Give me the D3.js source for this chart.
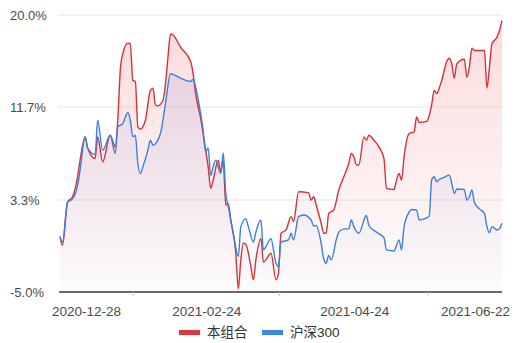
<!DOCTYPE html>
<html>
<head>
<meta charset="utf-8">
<script src="https://cdn.jsdelivr.net/npm/d3@7/dist/d3.min.js"></script>
<style>
  html, body { margin: 0; padding: 0; background: #fff; }
  svg { display: block; }
  text { font-family: "Liberation Sans", Arial, "Noto Sans CJK SC", sans-serif; }
</style>
</head>
<body>
<svg id="chart" width="516" height="343"></svg>
<script>
// Cumulative return (%) since 2020-12-28, keyed by calendar-day offset.
const startDate = "2020-12-28";
const seriesNames = ["本组合", "沪深300"];

const portfolioDays = [0, 1, 3, 5, 7, 8, 10, 11, 14, 15, 17, 20, 22, 23, 24, 25, 27, 28, 29, 30,
  31, 32, 34, 36, 37, 38, 39, 41, 42, 43, 44, 45, 48, 52, 53, 54, 56, 58, 59, 60,
  61, 63, 64, 65, 66, 67, 68, 70, 71, 72, 73, 74, 76, 77, 78, 80, 81, 82, 84, 86,
  87, 88, 90, 92, 93, 95, 99, 100, 101, 102, 104, 105, 106, 107, 109, 111, 113, 115, 116, 117,
  118, 119, 121, 122, 123, 125, 127, 129, 130, 133, 134, 135, 136, 137, 139, 141, 142, 143, 146, 148,
  149, 150, 151, 152, 154, 155, 156, 157, 158, 161, 162, 163, 164, 165, 169, 170, 171, 172, 174, 175, 176];
const portfolioPct = [0.0, -0.8, 3.1, 3.6, 5.4, 6.9, 9.0, 8.0, 7.05, 9.0, 6.75, 9.15, 8.1, 10.5, 15.0, 16.5, 17.45, 17.4, 14.1, 14.0,
  9.9, 9.7, 10.5, 13.2, 13.4, 11.9, 11.8, 12.3, 13.8, 16.2, 18.3, 18.2, 17.1, 15.8, 14.7, 12.9, 10.7, 7.8, 6.3, 4.35,
  5.1, 6.9, 5.85, 6.9, 2.85, 3.0, 1.5, -1.5, -4.7, -2.1, -0.6, -0.7, -2.7, -3.9, -2.1, -0.2, -2.3, -2.1, -1.5, -3.9,
  -3.3, 0.3, 0.6, 1.8, 1.35, 4.05, 3.95, 3.3, 3.6, 2.85, 1.2, 0.3, 0.3, 2.1, 2.4, 4.2, 5.4, 6.6, 7.5, 7.2,
  6.5, 6.45, 9.0, 8.7, 9.15, 8.7, 8.1, 7.05, 4.35, 4.25, 5.1, 5.7, 5.1, 7.2, 9.3, 9.45, 10.8, 10.3, 10.4, 11.9,
  13.2, 12.9, 13.4, 14.1, 15.8, 16.1, 15.6, 14.3, 15.6, 16.0, 14.4, 15.3, 17.0, 16.8, 16.8, 13.4, 15.3, 17.4, 18.0, 18.6, 19.5];

const csi300Days = [0, 1, 3, 5, 7, 8, 10, 11, 14, 15, 17, 20, 22, 23, 25, 26, 27, 28, 29, 30,
  31, 32, 33, 35, 36, 37, 40, 42, 44, 48, 52, 53, 54, 56, 57, 58, 59, 60, 61, 62,
  64, 65, 66, 67, 69, 71, 72, 74, 75, 77, 78, 80, 81, 82, 84, 86, 87, 88, 91, 92,
  93, 95, 97, 100, 101, 102, 104, 105, 106, 107, 108, 110, 111, 113, 115, 116, 117, 119, 122, 123,
  126, 129, 130, 133, 135, 136, 137, 139, 140, 142, 143, 145, 147, 148, 149, 150, 151, 153, 155, 156,
  157, 158, 161, 162, 163, 164, 165, 167, 169, 170, 171, 172, 174, 175, 176];
const csi300Pct = [0.0, -0.5, 3.1, 3.4, 4.6, 6.0, 9.0, 8.0, 7.4, 10.5, 7.8, 9.15, 7.5, 9.9, 10.2, 10.8, 11.2, 10.5, 9.0, 9.15,
  6.6, 5.7, 6.3, 7.8, 8.7, 8.25, 9.3, 12.0, 14.7, 14.3, 14.0, 14.2, 13.5, 11.1, 9.6, 7.65, 8.0, 5.5, 6.3, 6.9,
  5.7, 7.55, 3.9, 2.7, 0.3, -1.8, 0.9, 1.6, 0.9, -0.5, 0.4, 1.5, -1.2, -0.9, -0.2, -2.4, -2.7, -0.5, -0.3, 0.3,
  -0.3, 1.8, 1.95, 1.5, 0.95, 1.0, -0.6, -2.0, -2.4, -1.7, -2.1, -0.3, 0.4, 0.7, 0.7, 1.5, 0.9, 0.3, 1.9, 1.0,
  0.4, -0.1, -1.2, -1.3, -0.3, -1.2, 0.9, 2.2, 2.45, 2.4, 1.5, 1.6, 1.85, 5.1, 5.4, 4.95, 5.15, 5.35, 5.55, 4.8,
  3.9, 4.3, 4.25, 3.3, 3.6, 4.2, 3.1, 2.5, 2.1, 0.9, 0.35, 0.9, 0.6, 0.7, 1.2];

const yTickValues = [-5, 3.3, 11.7, 20];
const yTickLabels = ["-5.0%", "3.3%", "11.7%", "20.0%"];
const xTickLabels = ["2020-12-28", "2021-02-24", "2021-04-24", "2021-06-22"];

const colors = { portfolio: "#d93038", csi300: "#3b80da" };

const svg = d3.select("#chart");
const parse = d3.timeParse("%Y-%m-%d");
const t0 = parse(startDate);

const x = d3.scaleTime()
  .domain([t0, parse(xTickLabels[xTickLabels.length - 1])])
  .range([60, 502]);
const y = d3.scaleLinear().domain([-5, 20]).range([292, 15]);

const toPoints = (days, vals) => days.map((d, i) => ({ date: d3.timeDay.offset(t0, d), v: vals[i] }));
const portfolio = toPoints(portfolioDays, portfolioPct);
const csi300 = toPoints(csi300Days, csi300Pct);

// Fading gradients under each line
const defs = svg.append("defs");
function gradient(id, color, topOpacity) {
  const g = defs.append("linearGradient").attr("id", id)
    .attr("gradientUnits", "userSpaceOnUse")
    .attr("x1", 0).attr("x2", 0).attr("y1", y(20)).attr("y2", y(-5));
  g.append("stop").attr("offset", "0%").attr("stop-color", color).attr("stop-opacity", topOpacity);
  g.append("stop").attr("offset", "100%").attr("stop-color", color).attr("stop-opacity", 0.01);
}
gradient("gradPortfolio", "#f0484e", 0.2);
gradient("gradCsi", "#5a6fd0", 0.16);

// Horizontal grid lines
svg.append("g").selectAll("line")
  .data(yTickValues.filter(v => v !== -5))
  .join("line")
  .attr("x1", 58).attr("x2", 502)
  .attr("y1", d => y(d)).attr("y2", d => y(d))
  .attr("stroke", "#e6e6e6").attr("stroke-width", 1);

// Y tick labels (left aligned)
svg.append("g").selectAll("text")
  .data(yTickValues)
  .join("text")
  .attr("x", 10)
  .attr("y", d => y(d))
  .attr("dy", "0.36em")
  .attr("font-size", 13)
  .attr("fill", "#4a4a4a")
  .text((d, i) => yTickLabels[i]);

const area = d3.area().curve(d3.curveMonotoneX)
  .x(d => x(d.date)).y0(y(-5)).y1(d => y(d.v));
const line = d3.line().curve(d3.curveMonotoneX)
  .x(d => x(d.date)).y(d => y(d.v));

svg.append("path").datum(portfolio).attr("d", area).attr("fill", "url(#gradPortfolio)");
svg.append("path").datum(csi300).attr("d", area).attr("fill", "url(#gradCsi)");

svg.append("path").datum(portfolio).attr("d", line)
  .attr("fill", "none").attr("stroke", colors.portfolio).attr("stroke-width", 1.4)
  .attr("stroke-linejoin", "round");
svg.append("path").datum(csi300).attr("d", line)
  .attr("fill", "none").attr("stroke", colors.csi300).attr("stroke-width", 1.4)
  .attr("stroke-linejoin", "round");

// Bottom axis line
svg.append("line")
  .attr("x1", 59).attr("x2", 502).attr("y1", y(-5)).attr("y2", y(-5))
  .attr("stroke", "#3a3a3a").attr("stroke-width", 1.5);

// Small ticks midway between labelled dates
const labelDates = xTickLabels.map(parse);
const midDates = d3.pairs(labelDates).map(([a, b]) => new Date((+a + +b) / 2));
svg.append("g").selectAll("line")
  .data(midDates)
  .join("line")
  .attr("x1", d => x(d)).attr("x2", d => x(d))
  .attr("y1", y(-5)).attr("y2", y(-5) + 4)
  .attr("stroke", "#c8c8c8").attr("stroke-width", 1);

// X labels: first and last hug the ends, inner ones centred
svg.append("g").selectAll("text")
  .data(labelDates)
  .join("text")
  .attr("x", (d, i) => i === 0 ? 52 : i === labelDates.length - 1 ? 510 : x(d) + 1)
  .attr("y", 316)
  .attr("text-anchor", (d, i) => i === 0 ? "start" : i === labelDates.length - 1 ? "end" : "middle")
  .attr("font-size", 13.5)
  .attr("fill", "#4a4a4a")
  .text((d, i) => xTickLabels[i]);

// Legend
const legend = svg.append("g");
const legendItems = [
  { name: seriesNames[0], color: "#e0373c", x: 179 },
  { name: seriesNames[1], color: "#3f86e0", x: 262 }
];
legendItems.forEach(item => {
  legend.append("rect").attr("x", item.x).attr("y", 330).attr("width", 21).attr("height", 5)
    .attr("fill", item.color);
  legend.append("text").attr("x", item.x + 28).attr("y", 337)
    .attr("font-size", 13.5).attr("fill", "#333").text(item.name);
});
</script>
</body>
</html>
